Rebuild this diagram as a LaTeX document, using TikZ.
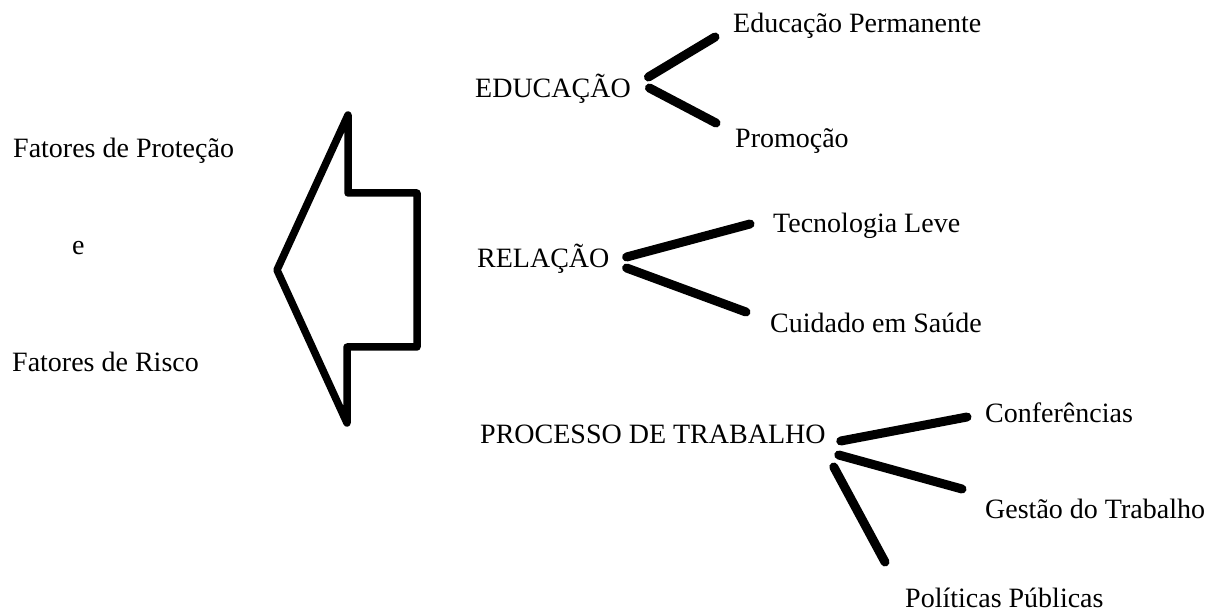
\documentclass[tikz,border=0pt]{standalone}
\usepackage{fontspec}
\setmainfont{Liberation Serif}
\usepackage{tikz}
\usetikzlibrary{positioning}

\begin{document}
\begin{tikzpicture}[x=1pt, y=-1pt,
  every node/.style={font=\fontsize{28}{34}\selectfont, inner sep=0pt, anchor=base west},
  branch/.style={line width=9pt, line cap=round}]
  \useasboundingbox (0,0) rectangle (1211,612);

  % Left labels
  \node (protecao) at (13,158) {Fatores de Proteção};
  \node (conj) at (72,255) {e};
  \node (risco) at (12,372) {Fatores de Risco};

  % Big arrow pointing left
  \draw[line width=7.5pt, line join=round] (348,115) -- (348,193) -- (417,193) -- (417,347)
    -- (347,347) -- (347,423) -- (277,270) -- cycle;

  % Educacao
  \node (edu) at (475,98) {EDUCAÇÃO};
  \node (eduperm) at (733,33) {Educação Permanente};
  \node (promo) at (735,148) {Promoção};
  \draw[branch] ([shift={(17.5,-21)}]edu.base east) -- ([shift={(-18,4)}]eduperm.base west);
  \draw[branch] ([shift={(18.5,-10)}]edu.base east) -- ([shift={(-19,-25)}]promo.base west);

  % Relacao
  \node (rel) at (477,268) {RELAÇÃO};
  \node (tecleve) at (773,233) {Tecnologia Leve};
  \node (cuidado) at (770,333) {Cuidado em Saúde};
  \draw[branch] ([shift={(17,-11)}]rel.base east) -- ([shift={(-23,-9)}]tecleve.base west);
  \draw[branch] ([shift={(17,0)}]rel.base east) -- ([shift={(-24,-21)}]cuidado.base west);

  % Processo de trabalho
  \node (proc) at (480,443) {PROCESSO DE TRABALHO};
  \node (conf) at (985,423) {Conferências};
  \node (gestao) at (985,518) {Gestão do Trabalho};
  \node (polit) at (905,607) {Políticas Públicas};
  \draw[branch] ([shift={(15,-2)}]proc.base east) -- ([shift={(-18,-6)}]conf.base west);
  \draw[branch] ([shift={(13,12)}]proc.base east) -- ([shift={(-23,-29)}]gestao.base west);
  \draw[branch] ([shift={(8,24)}]proc.base east) -- ([shift={(-20,-45)}]polit.base west);
\end{tikzpicture}
\end{document}
